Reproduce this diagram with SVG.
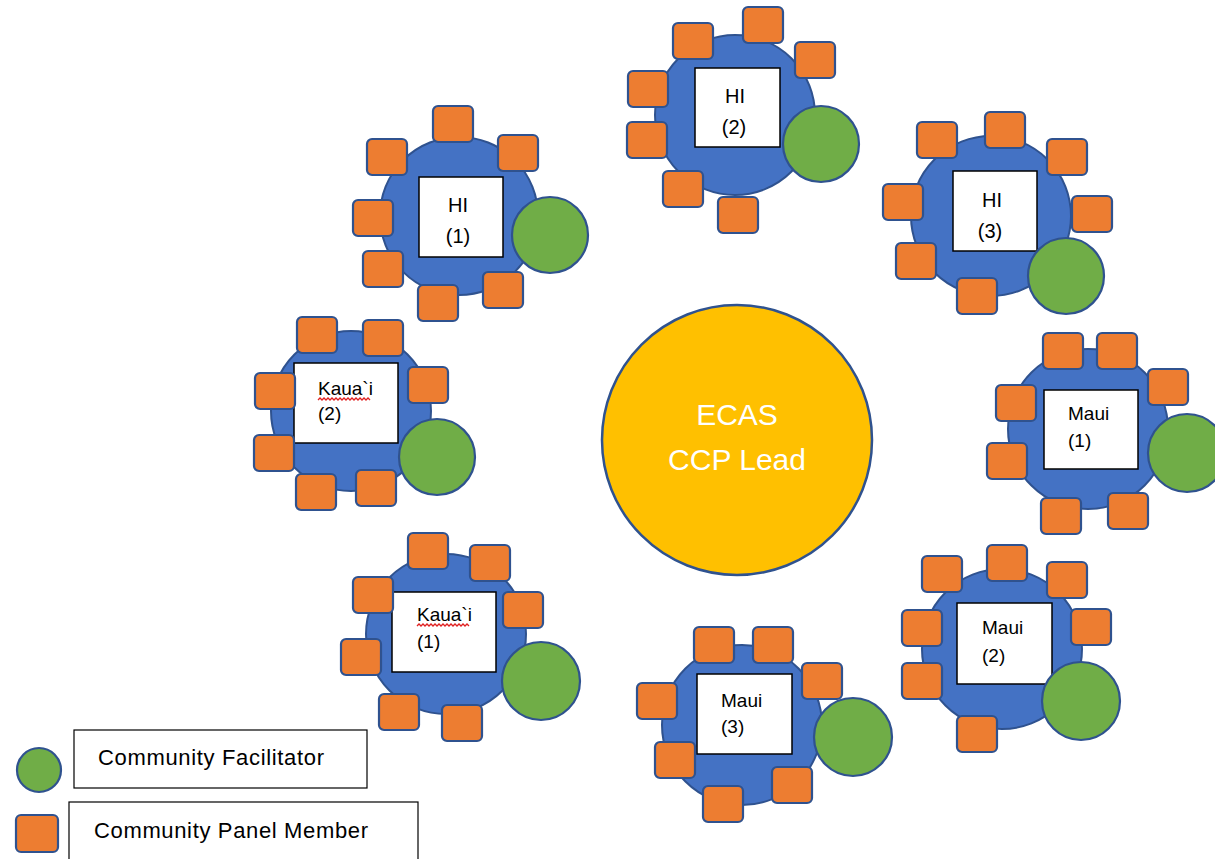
<svg xmlns="http://www.w3.org/2000/svg" xmlns:xlink="http://www.w3.org/1999/xlink" width="1215" height="859" viewBox="0 0 1215 859">
<style>
.tbl{fill:#4472C4;stroke:#2F528F;stroke-width:2}
.seat{fill:#ED7D31;stroke:#2F528F;stroke-width:2.2}
.fac{fill:#70AD47;stroke:#2F528F;stroke-width:2.2}
.lbl{fill:#FFFFFF;stroke:#000000;stroke-width:1.5}
.t{font-family:"Liberation Sans",Arial,sans-serif;fill:#000000}
.hi{font-size:20px;text-anchor:middle}
.sm{font-size:19px}
.sq{fill:none;stroke:#E02020;stroke-width:1.3}
.leg{fill:#FFFFFF;stroke:#000000;stroke-width:1.2}
</style>
<defs>
<rect id="s" class="seat" width="40" height="36" rx="5"/>
</defs>
<rect width="1215" height="859" fill="#FFFFFF"/>

<g id="lead">
<circle cx="737" cy="440" r="135" fill="#FFC000" stroke="#2F528F" stroke-width="2.5"/>
<text class="t" x="737" y="425" font-size="30" style="fill:#FFFFFF" text-anchor="middle">ECAS</text>
<text class="t" x="737" y="470" font-size="30" style="fill:#FFFFFF" text-anchor="middle">CCP Lead</text>
</g>

<g id="hi1">
<circle class="tbl" cx="459" cy="216" r="79"/>
<rect class="lbl" x="419" y="177" width="84" height="80"/>
<use xlink:href="#s" x="433" y="106"/><use xlink:href="#s" x="498" y="135"/><use xlink:href="#s" x="367" y="139"/><use xlink:href="#s" x="353" y="200"/><use xlink:href="#s" x="363" y="251"/><use xlink:href="#s" x="418" y="285"/><use xlink:href="#s" x="483" y="272"/>
<circle class="fac" cx="550" cy="235" r="38"/>
<text class="t hi" x="458" y="212">HI</text>
<text class="t hi" x="458" y="243">(1)</text>
</g>

<g id="hi2">
<circle class="tbl" cx="735" cy="115" r="80"/>
<rect class="lbl" x="695" y="68" width="85" height="79"/>
<use xlink:href="#s" x="673" y="23"/><use xlink:href="#s" x="743" y="7"/><use xlink:href="#s" x="795" y="42"/><use xlink:href="#s" x="628" y="71"/><use xlink:href="#s" x="627" y="122"/><use xlink:href="#s" x="663" y="171"/><use xlink:href="#s" x="718" y="197"/>
<circle class="fac" cx="821" cy="144" r="38"/>
<text class="t hi" x="735" y="103">HI</text>
<text class="t hi" x="734" y="134">(2)</text>
</g>

<g id="hi3">
<circle class="tbl" cx="991" cy="216" r="80"/>
<rect class="lbl" x="953" y="171" width="84" height="80"/>
<use xlink:href="#s" x="917" y="122"/><use xlink:href="#s" x="985" y="112"/><use xlink:href="#s" x="1047" y="139"/><use xlink:href="#s" x="883" y="184"/><use xlink:href="#s" x="1072" y="196"/><use xlink:href="#s" x="896" y="243"/><use xlink:href="#s" x="957" y="278"/>
<circle class="fac" cx="1066" cy="276" r="38"/>
<text class="t hi" x="992" y="207">HI</text>
<text class="t hi" x="990" y="238">(3)</text>
</g>

<g id="kauai2">
<circle class="tbl" cx="351" cy="411" r="80"/>
<rect class="lbl" x="294" y="363" width="104" height="80"/>
<use xlink:href="#s" x="297" y="317"/><use xlink:href="#s" x="363" y="320"/><use xlink:href="#s" x="255" y="373"/><use xlink:href="#s" x="408" y="367"/><use xlink:href="#s" x="254" y="435"/><use xlink:href="#s" x="296" y="474"/><use xlink:href="#s" x="356" y="470"/>
<circle class="fac" cx="437" cy="457" r="38"/>
<text class="t sm" x="318" y="395">Kaua`i</text>
<text class="t sm" x="318" y="420">(2)</text>
<path class="sq" d="M318 400 l2 -2 l2 2 l2 -2 l2 2 l2 -2 l2 2 l2 -2 l2 2 l2 -2 l2 2 l2 -2 l2 2 l2 -2 l2 2 l2 -2 l2 2 l2 -2 l2 2 l2 -2 l2 2 l2 -2 l2 2 l2 -2 l2 2 l2 -2 l2 2"/>
</g>

<g id="maui1">
<circle class="tbl" cx="1088" cy="429" r="80"/>
<rect class="lbl" x="1044" y="390" width="94" height="79"/>
<use xlink:href="#s" x="1043" y="333"/><use xlink:href="#s" x="1097" y="333"/><use xlink:href="#s" x="1148" y="369"/><use xlink:href="#s" x="996" y="385"/><use xlink:href="#s" x="987" y="443"/><use xlink:href="#s" x="1041" y="498"/><use xlink:href="#s" x="1108" y="493"/>
<circle class="fac" cx="1187" cy="453" r="39"/>
<text class="t sm" x="1068" y="420">Maui</text>
<text class="t sm" x="1068" y="447">(1)</text>
</g>

<g id="kauai1">
<circle class="tbl" cx="446" cy="634" r="80"/>
<rect class="lbl" x="392" y="592" width="104" height="80"/>
<use xlink:href="#s" x="408" y="533"/><use xlink:href="#s" x="470" y="545"/><use xlink:href="#s" x="353" y="577"/><use xlink:href="#s" x="503" y="592"/><use xlink:href="#s" x="341" y="639"/><use xlink:href="#s" x="379" y="694"/><use xlink:href="#s" x="442" y="705"/>
<circle class="fac" cx="541" cy="681" r="39"/>
<text class="t sm" x="417" y="621">Kaua`i</text>
<text class="t sm" x="417" y="648">(1)</text>
<path class="sq" d="M417 626 l2 -2 l2 2 l2 -2 l2 2 l2 -2 l2 2 l2 -2 l2 2 l2 -2 l2 2 l2 -2 l2 2 l2 -2 l2 2 l2 -2 l2 2 l2 -2 l2 2 l2 -2 l2 2 l2 -2 l2 2 l2 -2 l2 2 l2 -2 l2 2"/>
</g>

<g id="maui3">
<circle class="tbl" cx="742" cy="725" r="80"/>
<rect class="lbl" x="697" y="674" width="95" height="80"/>
<use xlink:href="#s" x="694" y="627"/><use xlink:href="#s" x="753" y="627"/><use xlink:href="#s" x="802" y="663"/><use xlink:href="#s" x="637" y="683"/><use xlink:href="#s" x="655" y="742"/><use xlink:href="#s" x="772" y="767"/><use xlink:href="#s" x="703" y="786"/>
<circle class="fac" cx="853" cy="737" r="39"/>
<text class="t sm" x="721" y="707">Maui</text>
<text class="t sm" x="721" y="733">(3)</text>
</g>

<g id="maui2">
<circle class="tbl" cx="1002" cy="649" r="80"/>
<rect class="lbl" x="957" y="603" width="95" height="81"/>
<use xlink:href="#s" x="922" y="556"/><use xlink:href="#s" x="987" y="545"/><use xlink:href="#s" x="1047" y="562"/><use xlink:href="#s" x="902" y="610"/><use xlink:href="#s" x="1071" y="609"/><use xlink:href="#s" x="902" y="663"/><use xlink:href="#s" x="957" y="716"/>
<circle class="fac" cx="1081" cy="701" r="39"/>
<text class="t sm" x="982" y="634">Maui</text>
<text class="t sm" x="982" y="662">(2)</text>
</g>

<g id="legend-facilitator">
<circle class="fac" cx="39" cy="770" r="22"/>
<rect class="leg" x="74" y="730" width="293" height="58"/>
<text class="t" x="98" y="765" font-size="22" textLength="226" lengthAdjust="spacing">Community Facilitator</text>
</g>
<g id="legend-member">
<rect class="seat" x="16" y="815" width="42" height="37" rx="5"/>
<rect class="leg" x="69" y="802" width="349" height="70"/>
<text class="t" x="94" y="838" font-size="22" textLength="274" lengthAdjust="spacing">Community Panel Member</text>
</g>
</svg>
